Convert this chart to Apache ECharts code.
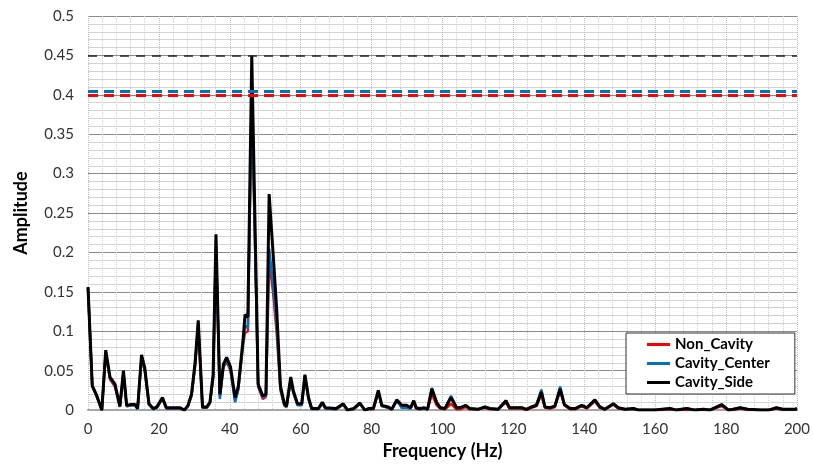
<!DOCTYPE html>
<html lang="en">
<head>
    <meta charset="UTF-8">
    <title>Amplitude spectrum</title>
    <style>
        html, body { margin: 0; padding: 0; background: #fff; }
        #chart { width: 813px; height: 465px; }
    </style>
</head>
<body>
<div id="chart"></div>
<script src="https://cdn.jsdelivr.net/npm/echarts@6/dist/echarts.min.js"></script>
<script>
// frequency of each sample (Hz)
var freqHz = [
    0, 1.2, 2.4, 3.9, 5.0, 6.2, 7.6, 9.0, 10.0, 10.9,
    12.2, 13.3, 14.0, 15.1, 16.0, 17.2, 18.4, 19.4, 21.0, 22.1,
    23.5, 25.0, 26.0, 27.2, 28.2, 29.2, 30.2, 31.1, 32.3, 33.5,
    34.4, 35.3, 36.1, 37.2, 38.2, 39.1, 40.2, 41.5, 42.4, 43.8,
    44.3, 45.1, 46.2, 48.0, 49.3, 50.2, 51.1, 52.2, 53.2, 54.3,
    55.4, 56.0, 57.2, 57.9, 59.1, 60.3, 61.2, 62.2, 63.1, 65.0,
    66.1, 67.0, 70.0, 72.0, 73.2, 74.9, 76.7, 78.1, 79.3, 80.5,
    81.9, 82.9, 84.7, 85.7, 87.1, 88.5, 89.9, 91.0, 91.9, 92.6,
    93.5, 94.9, 95.8, 97.0, 98.4, 99.4, 100.7, 102.4, 104.0, 105.0,
    106.6, 107.7, 110.0, 112.0, 113.4, 115.7, 117.9, 118.9, 120.5, 122.4,
    123.7, 125.1, 126.5, 127.9, 128.9, 130.3, 131.7, 133.2, 134.4, 136.0,
    137.4, 139.3, 140.7, 143.0, 144.4, 145.8, 148.2, 149.6, 151.5, 153.9,
    155.3, 158.0, 160.0, 162.0, 164.2, 166.0, 168.9, 171.3, 173.6, 175.4,
    178.8, 180.7, 182.0, 184.0, 186.1, 189.6, 192.0, 194.2, 196.0, 199.4,
    200.0
];

var nonCavity = [
    .155, .030, .018, 0, .072, .039, .030, .004, .046, .005,
    .006, .006, .002, .066, .050, .007, .002, .003, .014, .002,
    .002, .002, .002, 0, .005, .018, .055, .105, .003, .003,
    .009, .040, .205, .017, .054, .062, .050, .012, .027, .085,
    .098, .100, .400, .030, .014, .017, .190, .150, .100, .025,
    .006, .004, .038, .022, .007, .007, .041, .014, .002, .002,
    .008, .002, .001, .007, 0, .001, .008, 0, .001, .001,
    .022, .005, .003, .001, .011, .005, .005, .002, .010, .002,
    .001, .002, .001, .020, .006, .002, .001, .008, .001, .001,
    .004, .001, .001, .003, .001, .001, .010, .002, .002, .002,
    0, .003, .005, .020, .003, .002, .004, .024, .006, .001,
    .001, .005, .002, .011, .003, .001, .007, .002, .001, .001,
    0, 0, 0, 0, .001, 0, 0, 0, 0, 0,
    .005, 0, 0, .002, 0, 0, 0, .002, 0, 0,
    .001
];

var cavityCenter = [
    .156, .031, .019, 0, .074, .041, .032, .004, .048, .005,
    .006, .006, .001, .068, .052, .007, .001, .003, .015, .002,
    .002, .002, .002, 0, .005, .019, .058, .110, .003, .003,
    .009, .042, .215, .014, .056, .064, .052, .010, .026, .088,
    .107, .104, .404, .031, .016, .018, .205, .160, .110, .027,
    .006, .004, .040, .023, .006, .006, .043, .015, .001, .001,
    .009, .002, .001, .007, 0, .001, .008, 0, .002, .002,
    .024, .005, .003, .001, .012, .003, .003, .002, .011, .002,
    .001, .002, .001, .028, .010, .003, .002, .018, .003, .003,
    .006, .002, .001, .004, .002, .001, .012, .003, .003, .003,
    .001, .004, .007, .026, .004, .003, .005, .030, .007, .002,
    .002, .006, .003, .013, .004, .001, .008, .003, .001, .002,
    0, 0, 0, .001, .002, 0, .002, 0, .001, 0,
    .007, 0, .001, .003, .001, 0, 0, .003, .001, .001,
    .002
];

var cavitySide = [
    .156, .031, .019, 0, .076, .042, .033, .005, .050, .006,
    .007, .007, .002, .070, .054, .008, .002, .004, .016, .003,
    .003, .003, .003, 0, .006, .020, .060, .114, .004, .004,
    .010, .045, .223, .020, .058, .067, .055, .016, .030, .092,
    .121, .118, .450, .033, .018, .020, .274, .200, .130, .030,
    .008, .005, .042, .025, .008, .008, .045, .016, .002, .002,
    .010, .003, .002, .008, 0, .002, .009, 0, .002, .002,
    .025, .006, .004, .001, .013, .006, .006, .003, .012, .003,
    .002, .003, .001, .027, .009, .003, .002, .016, .003, .003,
    .006, .002, .001, .004, .002, .001, .012, .003, .003, .003,
    .001, .004, .006, .023, .004, .003, .005, .027, .007, .002,
    .002, .006, .003, .013, .004, .001, .008, .003, .001, .002,
    0, 0, 0, .001, .002, 0, .002, 0, .001, 0,
    .007, 0, .001, .003, .001, 0, 0, .003, .001, .001,
    .002
];

var seriesNames = ['Non_Cavity', 'Cavity_Center', 'Cavity_Side'];
var seriesColors = ['#ff0000', '#0070c0', '#000000'];

function pairUp(values) {
    var out = [];
    for (var i = 0; i < freqHz.length; i++) {
        out.push([freqHz[i], values[i]]);
    }
    return out;
}

// horizontal dashed line at each series' peak value
function peakLine(color, width, dash) {
    return {
        silent: true,
        symbol: 'none',
        precision: 4,
        label: { show: false },
        lineStyle: { color: color, width: width, type: dash },
        emphasis: { disabled: true },
        data: [{ type: 'max', valueDim: 'y' }]
    };
}

var fontName = 'Lato';
var chart = echarts.init(document.getElementById('chart'));
var option = {
    animation: false,
    textStyle: { fontFamily: fontName },
    grid: { left: 88, right: 16, top: 16, bottom: 51 },
    legend: {
        orient: 'vertical',
        left: 626,
        top: 333,
        padding: [4, 25, 4, 21],
        itemGap: 4,
        itemWidth: 23,
        itemHeight: 3,
        icon: 'rect',
        backgroundColor: '#fff',
        borderColor: '#333',
        borderWidth: 1,
        borderRadius: 0,
        textStyle: { fontFamily: fontName, fontWeight: 'bold', fontSize: 15, color: '#000' },
        data: seriesNames
    },
    xAxis: {
        type: 'value',
        min: 0,
        max: 200,
        interval: 20,
        name: 'Frequency (Hz)',
        nameLocation: 'middle',
        nameGap: 28,
        nameTextStyle: { fontFamily: fontName, fontWeight: 'bold', fontSize: 18, color: '#000' },
        axisLine: { show: true, lineStyle: { color: '#a6a6a6', width: 2 } },
        axisTick: { show: false },
        axisLabel: { fontFamily: fontName, fontSize: 15, color: '#333', margin: 12 },
        splitLine: { show: true, lineStyle: { color: '#bdbdbd', type: 'dotted', width: 1 } },
        minorTick: { show: false, splitNumber: 5 },
        minorSplitLine: { show: true, lineStyle: { color: '#cfcfcf', type: 'dotted', width: 1 } }
    },
    yAxis: {
        type: 'value',
        min: 0,
        max: 0.5,
        interval: 0.05,
        name: 'Amplitude',
        nameLocation: 'middle',
        nameGap: 58,
        nameTextStyle: { fontFamily: fontName, fontWeight: 'bold', fontSize: 18, color: '#000' },
        axisLine: { show: false },
        axisTick: { show: false },
        axisLabel: { fontFamily: fontName, fontSize: 15, color: '#333', margin: 14 },
        splitLine: { show: true, lineStyle: { color: '#8c8c8c', width: 1 } },
        minorTick: { show: false, splitNumber: 5 },
        minorSplitLine: { show: true, lineStyle: { color: '#d4d4d4', width: 1 } }
    },
    series: [
        {
            name: seriesNames[0],
            type: 'line',
            data: pairUp(nonCavity),
            showSymbol: false,
            color: seriesColors[0],
            lineStyle: { width: 2.5 },
            markLine: peakLine(seriesColors[0], 3, [10, 6])
        },
        {
            name: seriesNames[1],
            type: 'line',
            data: pairUp(cavityCenter),
            showSymbol: false,
            color: seriesColors[1],
            lineStyle: { width: 2.5 },
            markLine: peakLine(seriesColors[1], 3, [10, 6])
        },
        {
            name: seriesNames[2],
            type: 'line',
            data: pairUp(cavitySide),
            showSymbol: false,
            color: seriesColors[2],
            lineStyle: { width: 3 },
            markLine: peakLine('#222222', 1.5, [9, 7])
        }
    ]
};
chart.setOption(option);
</script>
</body>
</html>
